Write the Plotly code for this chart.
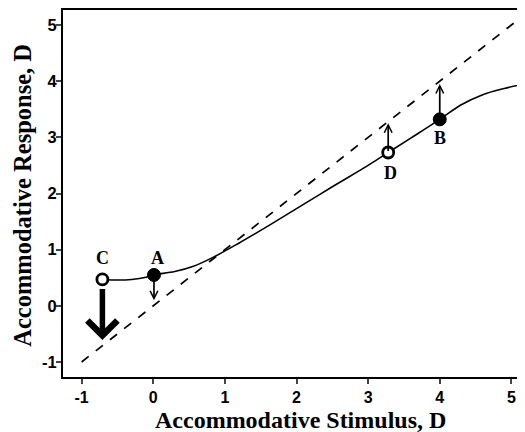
import plotly.graph_objects as go

# Data
diag_x = [-1.0, 5.5]
diag_y = [-1.0, 5.5]

curve_x = [-0.7, -0.5, -0.3, -0.1, 0.0, 0.3, 0.55, 0.8, 1.2, 1.6, 2.0, 2.5, 3.0, 3.28, 3.6, 4.0, 4.3, 4.6, 4.9, 5.25]
curve_y = [0.47, 0.46, 0.47, 0.51, 0.55, 0.61, 0.70, 0.84, 1.12, 1.42, 1.73, 2.12, 2.50, 2.73, 2.99, 3.32, 3.58, 3.76, 3.87, 3.97]

open_labels = ["C", "D"]
open_x = [-0.71, 3.28]
open_y = [0.47, 2.73]

filled_labels = ["A", "B"]
filled_x = [0.01, 4.0]
filled_y = [0.55, 3.32]

# arrow targets (tip) per point
arrow_tips = {"C": -0.61, "A": 0.10, "D": 3.25, "B": 3.95}
label_x = {"C": -0.71, "A": 0.06, "D": 3.31, "B": 4.0}
label_y = {"C": 0.85, "A": 0.85, "D": 2.36, "B": 2.98}

x_ticks = [-1, 0, 1, 2, 3, 4, 5]
x_tick_text = ["-1", "0", "1", "2", "3", "4", "5"]
y_ticks = [-1, 0, 1, 2, 3, 4, 5]
y_tick_text = ["-1", "0", "1", "2", "3", "4", "5"]

serif = "Liberation Serif, Times New Roman, serif"
sans = "Liberation Sans, Arial, sans-serif"

fig = go.Figure()
fig.add_trace(go.Scatter(x=diag_x, y=diag_y, mode="lines",
                         line=dict(color="black", width=1.7, dash="dash"), hoverinfo="skip"))
fig.add_trace(go.Scatter(x=curve_x, y=curve_y, mode="lines", line_shape="spline",
                         line=dict(color="black", width=1.6), hoverinfo="skip"))
fig.add_trace(go.Scatter(x=open_x, y=open_y, mode="markers",
                         marker=dict(size=11, color="white", line=dict(color="black", width=2.8))))
fig.add_trace(go.Scatter(x=filled_x, y=filled_y, mode="markers",
                         marker=dict(size=13, color="black", line=dict(color="black", width=1))))

pts = dict(zip(open_labels + filled_labels, zip(open_x + filled_x, open_y + filled_y)))
for lab, (px, py) in pts.items():
    tip = arrow_tips[lab]
    big = lab == "C"
    fig.add_annotation(x=px, y=tip, ax=px, ay=py, xref="x", yref="y", axref="x", ayref="y",
                       text="", showarrow=True, arrowhead=4 if big else 5,
                       arrowwidth=5.5 if big else 1.7, arrowsize=1.05 if big else 0.9,
                       arrowcolor="black", startstandoff=8 if big else 0)
    fig.add_annotation(x=label_x[lab], y=label_y[lab], text="<b>%s</b>" % lab,
                       showarrow=False, font=dict(family=serif, size=18, color="black"))

# axis titles as annotations for precise placement
fig.add_annotation(x=0.513, y=-0.117, xref="paper", yref="paper", showarrow=False,
                   xanchor="center", yanchor="middle",
                   text="<b>Accommodative Stimulus, D</b>", font=dict(family=serif, size=24, color="black"))
fig.add_annotation(x=-0.087, y=0.496, xref="paper", yref="paper", showarrow=False, textangle=-90,
                   xanchor="center", yanchor="middle",
                   text="<b>Accommodative Response, D</b>", font=dict(family=serif, size=24.5, color="black"))

# page body has an 8px default margin, so the figure is sized/offset to compensate
fig.update_layout(
    width=517, height=424,
    margin=dict(l=55, r=0, t=2, b=55),
    paper_bgcolor="white", plot_bgcolor="white",
    showlegend=False,
    xaxis=dict(range=[-1.26, 5.19], tickvals=x_ticks, ticktext=x_tick_text, ticks="outside", ticklen=5,
               tickwidth=1.5, automargin=False,
               showgrid=False, zeroline=False, showline=True, linecolor="black", linewidth=2,
               mirror=True,
               tickfont=dict(family=sans, size=16, color="black", weight="bold")),
    yaxis=dict(range=[-1.267, 5.267], tickvals=y_ticks, ticktext=y_tick_text, ticks="outside", ticklen=5,
               tickwidth=1.5, automargin=False, ticklabelstandoff=-4,
               showgrid=False, zeroline=False, showline=True, linecolor="black", linewidth=2,
               tickfont=dict(family=sans, size=16.5, color="black", weight="bold")),
)

fig.write_html("out.html")
